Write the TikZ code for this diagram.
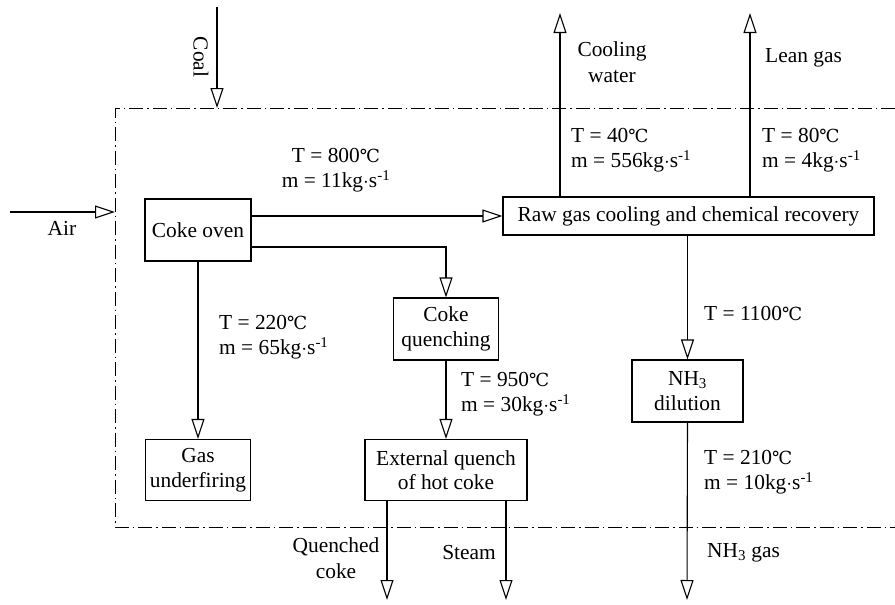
\documentclass[tikz,border=0pt]{standalone}
\usepackage{fontspec}
\setmainfont{Liberation Serif}
\newfontfamily\celsiusfont{DejaVu Serif}
\usetikzlibrary{arrows.meta}
\newcommand{\degC}{{\celsiusfont\fontsize{18}{20}\selectfont ℃}}
\newcommand{\kgs}{kg$\cdot$s\textsuperscript{-1}}
\begin{document}
\begin{tikzpicture}[x=1pt,y=-1pt,
  font=\fontsize{21.4}{25.5}\selectfont,
  box/.style={draw,line width=1.1pt,inner sep=0pt,align=center},
  flow/.style={line width=1.1pt,-{Triangle[open,length=20pt,width=13pt,fill=white]}},
  lbl/.style={inner sep=0pt,align=left,anchor=west},
  clbl/.style={inner sep=0pt,align=center},
  boundary/.style={line width=0.9pt,dash pattern=on 14pt off 4pt on 1.5pt off 4pt}]
\useasboundingbox (0,0) rectangle (895,605);
% boundary
\draw[boundary] (895,108) -- (115,108) -- (115,527) -- (895,527);
% boxes
\node[box,minimum width=106pt,minimum height=62pt] (coke) at (198,230) {Coke oven};
\node[box,minimum width=371pt,minimum height=38pt] (raw) at (688.5,216) {Raw gas cooling and chemical recovery};
\node[box,minimum width=105pt,minimum height=62pt] (cq) at (446,329) {Coke\\[-1pt]quenching};
\node[box,minimum width=105pt,minimum height=61pt] (gu) at (198,470) {Gas\\[-1pt]underfiring};
\node[box,minimum width=162pt,minimum height=61pt] (ext) at (446,470) {External quench\\[-1pt]of hot coke};
\node[box,minimum width=111pt,minimum height=62pt] (nh) at (687.5,391) {NH\textsubscript{3}\\[-1pt]dilution};
% free ends
\coordinate (coalS) at (217,7);
\coordinate (coalE) at (217,108);
\coordinate (airS) at (10,212);
\coordinate (airE) at (115,212);
\coordinate (cwE) at (560,13);
\coordinate (lgE) at (750,13);
\coordinate (qcE) at (387,600);
\coordinate (stE) at (506,600);
\coordinate (ngE) at (687,600);
% connectors
\draw[flow] (coalS) -- (coalE);
\draw[flow] (airS) -- (airE);
\draw[flow] (coke.east |- raw.west) -- (raw.west);
\draw[flow] ([yshift=-17pt]coke.east) -| (cq.north);
\draw[flow] (coke.south) -- (gu.north);
\draw[flow] (cq.south) -- (ext.north);
\draw[flow] (raw.south -| nh.north) -- (nh.north);
\draw[flow] (raw.north -| cwE) -- (cwE);
\draw[flow] (raw.north -| lgE) -- (lgE);
\draw[flow] (ext.south -| qcE) -- (qcE);
\draw[flow] (ext.south -| stE) -- (stE);
\draw[flow] (nh.south) -- (ngE);
% labels
\node[clbl,rotate=-90] (coal) at (201,57) {Coal};
\node[clbl] (air) at (62,228) {Air};
\node[clbl] (cw) at (612,62) {Cooling\\water};
\node[lbl] (lg) at (765,58) {Lean gas};
\node[lbl] (l40) at (571,150) {T = 40\degC\\m = 556\kgs};
\node[lbl] (l80) at (762,150) {T = 80\degC\\m = 4\kgs};
\node[clbl] (l800) at (336,170) {T = 800\degC\\m = 11\kgs};
\node[lbl] (l220) at (219,337) {T = 220\degC\\m = 65\kgs};
\node[lbl] (l950) at (461,394) {T = 950\degC\\m = 30\kgs};
\node[lbl] (l1100) at (704,314) {T = 1100\degC};
\node[lbl] (l210) at (704,472) {T = 210\degC\\m = 10\kgs};
\node[clbl] (qc) at (336,558) {Quenched\\coke};
\node[clbl] (st) at (469,553) {Steam};
\node[lbl] (ng) at (707,553) {NH\textsubscript{3} gas};
\end{tikzpicture}
\end{document}
